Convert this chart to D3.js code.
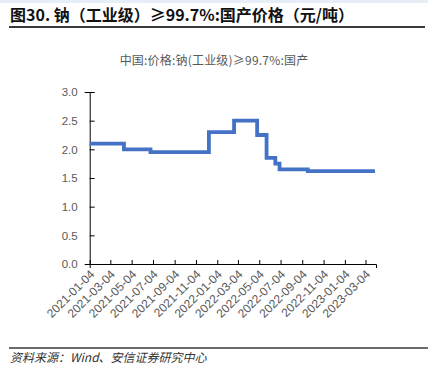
<!DOCTYPE html>
<html>
<head>
<meta charset="utf-8">
<script src="https://cdn.jsdelivr.net/npm/d3@7"></script>
<style>
  body { margin: 0; background: #fff; }
  svg { display: block; font-family: "Noto Sans CJK SC", "Liberation Sans", sans-serif; }
</style>
</head>
<body>
<svg></svg>
<script>
const width = 428;
const height = 385;
const margin = { top: 92, right: 52, bottom: 121, left: 89.7 };

// change points of the price series (as shown on axis)
const changeDates = ["2021-01-04", "2021-04-12", "2021-06-27", "2021-12-11", "2022-02-21",
  "2022-04-28", "2022-05-25", "2022-06-19", "2022-07-01", "2022-09-20", "2023-03-31"];
const changeValues = [2.1, 2.0, 1.95, 2.3, 2.5, 2.25, 1.85, 1.75, 1.65, 1.62, 1.62];
const tickDates = ["2021-01-04", "2021-03-04", "2021-05-04", "2021-07-04", "2021-09-04", "2021-11-04",
  "2022-01-04", "2022-03-04", "2022-05-04", "2022-07-04", "2022-09-04", "2022-11-04",
  "2023-01-04", "2023-03-04"];
const yTicks = [0, 0.5, 1.0, 1.5, 2.0, 2.5, 3.0];

const parse = d3.timeParse("%Y-%m-%d");
const data = changeDates.map((d, i) => ({ date: parse(d), value: changeValues[i] }));

const svg = d3.select("svg").attr("width", width).attr("height", height);

// faint band at the very top
svg.append("rect").attr("x", 0).attr("y", 0).attr("width", width).attr("height", 3).attr("fill", "#e6eef8");

// Report title and rule
svg.append("text")
  .attr("x", 10)
  .attr("y", 21)
  .style("font-size", "16px")
  .style("font-weight", "bold")
  .attr("fill", "#111")
  .text("图30. 钠（工业级）≥99.7%:国产价格（元/吨）");

svg.append("line")
  .attr("x1", 9).attr("x2", 425)
  .attr("y1", 27).attr("y2", 27)
  .attr("stroke", "#3a3a3a").attr("stroke-width", 2);

// Chart subtitle
svg.append("text")
  .attr("x", 214)
  .attr("y", 65)
  .attr("text-anchor", "middle")
  .style("font-size", "12px")
  .style("letter-spacing", "0.2px")
  .attr("fill", "#595959")
  .text("中国:价格:钠(工业级)≥99.7%:国产");

const x = d3.scaleTime()
  .domain([parse("2021-01-04"), parse("2023-04-03")])
  .range([margin.left, width - margin.right]);

const y = d3.scaleLinear()
  .domain([0, 3])
  .range([height - margin.bottom, margin.top]);

// y axis
const yAxis = svg.append("g")
  .attr("transform", `translate(${margin.left},0)`)
  .call(d3.axisLeft(y).tickValues(yTicks).tickFormat(d3.format(".1f")).tickSize(5));
yAxis.select(".domain").attr("stroke", "#000");
yAxis.selectAll(".tick line").attr("stroke", "#000").attr("transform", "translate(5,0)");
yAxis.selectAll(".tick text")
  .attr("x", -12)
  .style("font-size", "11.5px")
  .style("font-family", "Liberation Sans, Arial, sans-serif")
  .attr("fill", "#595959");

// x axis
const xAxis = svg.append("g")
  .attr("transform", `translate(0,${height - margin.bottom})`)
  .call(d3.axisBottom(x).tickValues(tickDates.map(parse)).tickFormat(d3.timeFormat("%Y-%m-%d")).tickSizeOuter(0).tickSize(4));
xAxis.select(".domain").attr("stroke", "#000");
xAxis.selectAll(".tick line").attr("stroke", "#000").attr("transform", "translate(0,-4)");
xAxis.selectAll(".tick text")
  .style("text-anchor", "end")
  .style("font-size", "12px")
  .style("font-family", "Liberation Sans, Arial, sans-serif")
  .attr("fill", "#595959")
  .attr("x", 0)
  .attr("y", 0)
  .attr("dy", 0)
  .attr("transform", "translate(5,11) rotate(-45)");

// price line
const line = d3.line()
  .x(d => x(d.date))
  .y(d => y(d.value))
  .curve(d3.curveStepAfter);

svg.append("path")
  .datum(data)
  .attr("fill", "none")
  .attr("stroke", "#4472C4")
  .attr("stroke-width", 3.8)
  .attr("d", line);

// footer rule and source
svg.append("line")
  .attr("x1", 9).attr("x2", 428)
  .attr("y1", 348).attr("y2", 348)
  .attr("stroke", "#3a3a3a").attr("stroke-width", 1.5);

svg.append("text")
  .attr("x", 10)
  .attr("y", 362)
  .style("font-size", "12px")
  .style("font-style", "italic")
  .attr("fill", "#333")
  .text("资料来源：Wind、安信证券研究中心");
</script>
</body>
</html>
